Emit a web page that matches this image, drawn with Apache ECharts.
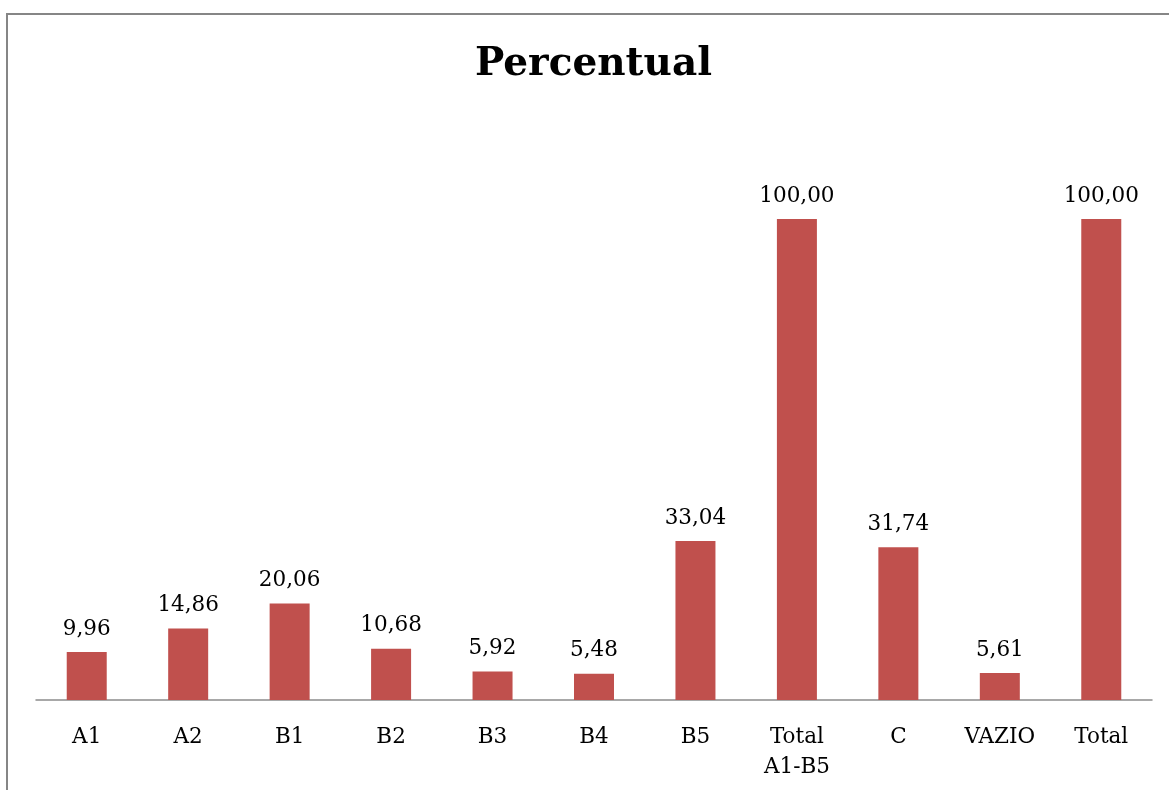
<!DOCTYPE html>
<html>
<head>
<meta charset="utf-8">
<script src="https://cdn.jsdelivr.net/npm/echarts@6/dist/echarts.min.js"></script>
<style>
	html, body { margin: 0; padding: 0; background: #fff; }
	#chart { width: 1169px; height: 790px; }
</style>
</head>
<body>
<div id="chart"></div>
<script>
// 数据
var categories = ['A1', 'A2', 'B1', 'B2', 'B3', 'B4', 'B5', 'Total\nA1-B5', 'C', 'VAZIO', 'Total'];
var percentValues = [9.96, 14.86, 20.06, 10.68, 5.92, 5.48, 33.04, 100, 31.74, 5.61, 100];

(function () {
	var myChart = echarts.init(document.getElementById('chart'));
	var serif = "'DejaVu Serif', serif";
	var option = {
		animation: false,
		title: {
			text: 'Percentual',
			left: 470,
			top: 40,
			textStyle: {
				fontFamily: serif,
				fontSize: 39,
				fontWeight: 'bold',
				color: '#000'
			}
		},
		// 外框线
		graphic: [{
			type: 'polyline',
			shape: { points: [[7, 790], [7, 14], [1169, 14]] },
			style: { stroke: '#868686', lineWidth: 2, fill: null }
		}],
		grid: {
			left: 36,
			right: 17,
			top: 219,
			bottom: 90
		},
		xAxis: {
			type: 'category',
			data: categories,
			axisTick: { show: false },
			axisLine: {
				lineStyle: { color: '#8c8c8c', width: 1.5 }
			},
			axisLabel: {
				interval: 0,
				margin: 22,
				color: '#000',
				fontFamily: serif,
				fontSize: 21.5,
				lineHeight: 30
			}
		},
		yAxis: {
			type: 'value',
			min: 0,
			max: 100,
			show: false,
			splitLine: { show: false }
		},
		series: [{
			type: 'bar',
			data: percentValues,
			barWidth: 40,
			itemStyle: { color: '#C0504D' },
			label: {
				show: true,
				position: 'top',
				distance: 12,
				color: '#000',
				fontFamily: serif,
				fontSize: 21.5,
				formatter: function (p) {
					return p.value.toFixed(2).replace('.', ',');
				}
			}
		}]
	};
	myChart.setOption(option);
})();
</script>
</body>
</html>
